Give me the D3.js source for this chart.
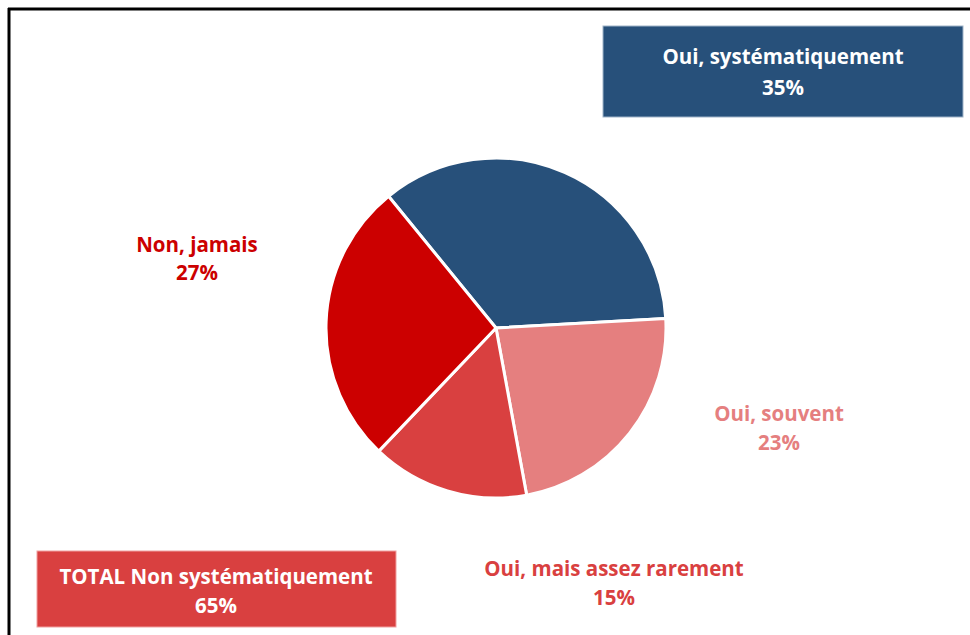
<!DOCTYPE html>
<html><head><meta charset="utf-8">
<script src="https://cdn.jsdelivr.net/npm/d3@7"></script>
<style>body{margin:0;background:#fff}svg{display:block}text{font-family:"Open Sans",Lato,sans-serif;font-weight:700}</style>
</head><body>
<script>
const categories = ["Oui, systématiquement", "Oui, souvent", "Oui, mais assez rarement", "Non, jamais"];
const values = [35, 23, 15, 27];
const colors = ["#27507a", "#e57f7f", "#d94040", "#cc0000"];
const labelColors = ["#ffffff", "#e57f7f", "#d94040", "#cc0000"];
const totalLabel = "TOTAL Non systématiquement";
const totalValue = 65;

const W = 970, H = 635;
const svg = d3.select("body").append("svg").attr("width", W).attr("height", H);

// frame
svg.append("line").attr("x1", 8).attr("x2", W).attr("y1", 9).attr("y2", 9).attr("stroke", "#000").attr("stroke-width", 3);
svg.append("line").attr("x1", 9).attr("x2", 9).attr("y1", 8).attr("y2", H).attr("stroke", "#000").attr("stroke-width", 3);

const cx = 496, cy = 328, r = 170;
const start = -39.2 * Math.PI / 180;
const pie = d3.pie().sort(null).startAngle(start).endAngle(start + 2 * Math.PI);
const arc = d3.arc().innerRadius(0).outerRadius(r);
const g = svg.append("g").attr("transform", `translate(${cx},${cy})`);
g.selectAll("path").data(pie(values)).join("path")
  .attr("d", arc).attr("fill", (d, i) => colors[i])
  .attr("stroke", "#fff").attr("stroke-width", 3).attr("stroke-linejoin", "round");

// label boxes / labels
const labelPos = [
  {x: 783, y1: 64, y2: 95, box: [603, 26, 360, 91]},
  {x: 779, y1: 421, y2: 450},
  {x: 614, y1: 576, y2: 605},
  {x: 197, y1: 252, y2: 280}
];
function label(p, name, val, color) {
  const t = svg.append("text").attr("text-anchor", "middle").attr("fill", color).attr("font-size", 20.5);
  t.append("tspan").attr("x", p.x).attr("y", p.y1).text(name);
  t.append("tspan").attr("x", p.x).attr("y", p.y2).text(val + "%");
  return t;
}
categories.forEach((c, i) => {
  const p = labelPos[i];
  if (p.box) {
    svg.append("rect").attr("x", p.box[0]).attr("y", p.box[1]).attr("width", p.box[2]).attr("height", p.box[3])
      .attr("fill", colors[i]).attr("stroke", "#9fb3c8").attr("stroke-width", 1);
  }
  label(p, c, values[i], labelColors[i]);
});

svg.append("rect").attr("x", 37).attr("y", 551).attr("width", 359).attr("height", 76)
  .attr("fill", "#d94040").attr("stroke", "#f0a0a0").attr("stroke-width", 1);
label({x: 216, y1: 584, y2: 613}, totalLabel, totalValue, "#ffffff");
</script>
</body></html>
